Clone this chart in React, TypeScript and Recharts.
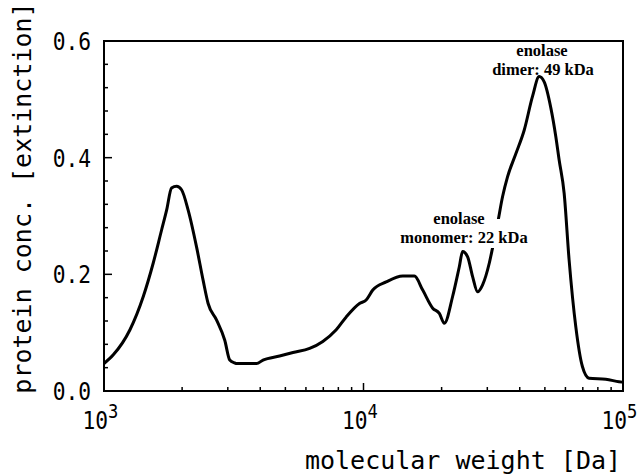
import React from 'react';
import { LineChart, Line, XAxis, YAxis, ReferenceArea } from 'recharts';

// molecular weight [Da] and protein concentration [extinction]
const molWeight = [
  1000, 1086, 1259, 1417, 1547, 1667, 1743, 1821, 1904, 1990,
  2110, 2273, 2409, 2519, 2713, 2920, 3052, 3190, 3240, 3870,
  4100, 4750, 5350, 6200, 6970, 7850, 8580, 9650, 10240, 10860,
  12230, 14170, 15710, 16910, 18480, 19600, 20490, 22050, 23400, 24090,
  25190, 26330, 27520, 28770, 30520, 31420, 32850, 34340, 35890, 38670,
  41610, 44800, 47530, 49690, 52730, 55100, 56750, 59320, 61980, 65790,
  69750, 74000, 85800, 96520, 100000,
];
const proteinConc = [
  0.047, 0.062, 0.105, 0.162, 0.219, 0.276, 0.31, 0.348, 0.351, 0.345,
  0.31, 0.247, 0.19, 0.15, 0.122, 0.087, 0.053, 0.048, 0.047, 0.047,
  0.053, 0.06, 0.066, 0.073, 0.085, 0.105, 0.127, 0.15, 0.156, 0.173,
  0.187, 0.197, 0.197, 0.173, 0.142, 0.133, 0.116, 0.162, 0.213, 0.239,
  0.23, 0.196, 0.17, 0.182, 0.219, 0.245, 0.287, 0.333, 0.367, 0.407,
  0.447, 0.505, 0.539, 0.53, 0.485, 0.436, 0.396, 0.339, 0.225, 0.11,
  0.042, 0.022, 0.02, 0.016, 0.015,
];

const xTicks = [
  1000, 2000, 3000, 4000, 5000, 6000, 7000, 8000, 9000,
  10000, 20000, 30000, 40000, 50000, 60000, 70000, 80000, 90000, 100000,
];
const xTickExponents: Record<number, string> = { 1000: '3', 10000: '4', 100000: '5' };
const yTicks = [0, 0.04, 0.08, 0.12, 0.16, 0.2, 0.24, 0.28, 0.32, 0.36, 0.4, 0.44, 0.48, 0.52, 0.56, 0.6];

const data = molWeight.map((mw, i) => ({ mw, conc: proteinConc[i] }));

const MONO = '"DejaVu Sans Mono", monospace';
const SERIF = '"Liberation Serif", "Times New Roman", serif';

const PLOT_LEFT = 104;
const PLOT_BOTTOM = 391;

const isMajorY = (v: number) => Math.abs(v * 5 - Math.round(v * 5)) < 1e-6;

// ticks point inward; y is the tick's coordinate, x is pinned to the left frame
const YTick = (props: any) => {
  const { y, payload } = props;
  const x = PLOT_LEFT;
  const v = payload.value as number;
  const major = isMajorY(v);
  return (
    <g>
      <line x1={x} x2={x + (major ? 8 : 4)} y1={y} y2={y} stroke="#000" strokeWidth={1.5} />
      {major && (
        <text
          transform={`translate(${x - 13},${y + 9}) scale(0.85,1)`}
          textAnchor="end"
          fontFamily={MONO}
          fontSize={25}
          fill="#000"
        >
          {v.toFixed(1)}
        </text>
      )}
    </g>
  );
};

const XTick = (props: any) => {
  const { x, payload } = props;
  const y = PLOT_BOTTOM;
  const exp = xTickExponents[payload.value];
  return (
    <g>
      <line x1={x} x2={x} y1={y} y2={y - (exp ? 8 : 4)} stroke="#000" strokeWidth={1.5} />
      {exp && (
        <g>
          <text
            transform={`translate(${x + 4},${y + 38}) scale(0.85,1)`}
            textAnchor="end"
            fontFamily={MONO}
            fontSize={25}
            fill="#000"
          >
            10
          </text>
          <text
            transform={`translate(${x + 4},${y + 27}) scale(0.9,1)`}
            textAnchor="start"
            fontFamily={MONO}
            fontSize={19}
            fill="#000"
          >
            {exp}
          </text>
        </g>
      )}
    </g>
  );
};

const App: React.FC = () => {
  return (
    <div style={{ position: 'fixed', left: 0, top: 0, width: 642, height: 474, background: '#fff' }}>
      <LineChart width={642} height={474} data={data} margin={{ top: 41, right: 19, bottom: 23, left: 44 }}>
        <XAxis
          dataKey="mw"
          type="number"
          scale="log"
          domain={[1000, 100000]}
          allowDataOverflow
          ticks={xTicks}
          interval={0}
          height={60}
          axisLine={false}
          tickLine={false}
          tick={<XTick />}
        />
        <YAxis
          type="number"
          domain={[0, 0.6]}
          allowDataOverflow
          ticks={yTicks}
          interval={0}
          width={60}
          axisLine={false}
          tickLine={false}
          tick={<YTick />}
        />
        <ReferenceArea x1={1000} x2={100000} y1={0} y2={0.6} fill="none" stroke="#000" strokeWidth={2} />
        <Line
          type="monotone"
          dataKey="conc"
          stroke="#000"
          strokeWidth={3}
          dot={false}
          activeDot={false}
          isAnimationActive={false}
        />
      </LineChart>
      <svg width={642} height={474} style={{ position: 'absolute', left: 0, top: 0, pointerEvents: 'none' }}>
        {/* axis titles */}
        <text
          transform="translate(31,198) rotate(-90)"
          textAnchor="middle"
          fontFamily={MONO}
          fontSize={25}
          fill="#000"
        >
          protein conc. [extinction]
        </text>
        <text x={463} y={469} textAnchor="middle" fontFamily={MONO} fontSize={25} fill="#000">
          molecular weight [Da]
        </text>
        {/* peak annotations */}
        <rect x={392} y={219} width={145} height={29} fill="#fff" />
        <g fontFamily={SERIF} fontWeight="bold" fontSize={16.5} fill="#000" textAnchor="middle">
          <text x={459} y={224}>enolase</text>
          <text x={464} y={243}>monomer: 22 kDa</text>
          <text x={542} y={56}>enolase</text>
          <text x={543} y={75}>dimer: 49 kDa</text>
        </g>
      </svg>
    </div>
  );
};

export default App;
